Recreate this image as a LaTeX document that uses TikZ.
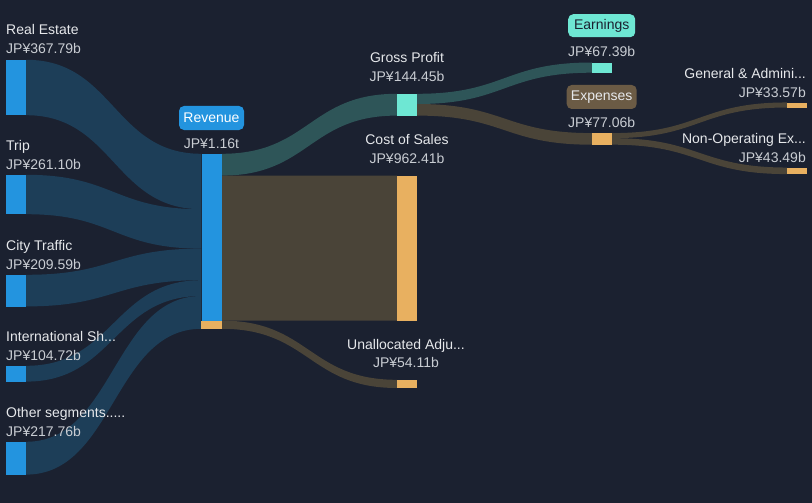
\documentclass[tikz,border=0pt]{standalone}
\usepackage{fontspec}
\setmainfont{Liberation Sans}
\usepackage{tikz}
\usetikzlibrary{
	backgrounds,									% flows behind the bars
	calc,											% coordinate arithmetic
	positioning,									% relative placement
}

\definecolor{canvas}{HTML}{1B2130}
\definecolor{segblue}{HTML}{2394DF}
\definecolor{flowblue}{HTML}{1D3E58}
\definecolor{flowteal}{HTML}{2E5558}
\definecolor{flowbrown}{HTML}{4A4438}
\definecolor{costorange}{HTML}{E8B060}
\definecolor{profteal}{HTML}{6EE7D3}
\definecolor{expbrown}{HTML}{6B5B45}
\definecolor{labelgray}{HTML}{E6E8EB}
\definecolor{valuegray}{HTML}{C9CDD3}

% #1 style, #2 source, #3/#4 top/bottom offset at source, #5 target, #6/#7 top/bottom offset at target
\newcommand{\sankeyflow}[7]{%
	\path ($(#2.north east)+(0,#3)$) coordinate (fa)
		($(#2.north east)+(0,#4)$) coordinate (fb)
		($(#5.north west)+(0,#6)$) coordinate (ta)
		($(#5.north west)+(0,#7)$) coordinate (tb)
		($(fa)!0.5!(ta)$) coordinate (fm);
	\fill[#1] (fa) .. controls (fm |- fa) and (fm |- ta) .. (ta) -- (tb)
		.. controls (fm |- tb) and (fm |- fb) .. (fb) -- cycle;
}

\tikzset{
	bar/.style={rectangle, inner sep=0pt, minimum width=20pt, fill=#1},
	name text/.style={text=labelgray, font=\fontsize{14}{16}\selectfont, inner sep=0pt},
	value text/.style={text=valuegray, font=\fontsize{14}{16}\selectfont, inner sep=0pt},
	tag/.style={rectangle, rounded corners=5pt, fill=#1, inner sep=0pt, minimum height=24pt,
		font=\fontsize{14}{16}\selectfont},
}

\begin{document}
\begin{tikzpicture}[x=1pt, y=-1pt]
	\useasboundingbox (0,0) rectangle (812,503);

	% bars
	\node[bar=segblue, minimum height=55.4pt] (re) at (16,87.7) {};
	\node[bar=segblue, minimum height=39.4pt] (trip) at (16,194.7) {};
	\node[bar=segblue, minimum height=31.6pt] (city) at (16,290.8) {};
	\node[bar=segblue, minimum height=15.8pt] (intl) at (16,373.9) {};
	\node[bar=segblue, minimum height=32.8pt] (other) at (16,458.4) {};
	\node[bar=segblue, minimum height=175pt] (rev) at (211.5,241.5) {};
	\fill[costorange] ($(rev.south west)+(0,-8.2)$) rectangle (rev.south east);
	\node[bar=profteal, minimum height=21.8pt] (gross) at (407,104.9) {};
	\node[bar=costorange, minimum height=145pt] (cost) at (407,248.3) {};
	\node[bar=costorange, minimum height=8.2pt] (unalloc) at (407,384.1) {};
	\node[bar=profteal, minimum height=10.2pt] (earn) at (602,67.8) {};
	\node[bar=costorange, minimum height=11.6pt] (exp) at (602,139.1) {};
	\node[bar=costorange, minimum height=5.06pt] (genadm) at (797,105.2) {};
	\node[bar=costorange, minimum height=6.55pt] (nonop) at (797,171) {};

	% flows
	\begin{scope}[on background layer]
		\fill[canvas] (0,0) rectangle (812,503);
		\sankeyflow{flowblue}{re}{0}{55.4}{rev}{0}{55.4}
		\sankeyflow{flowblue}{trip}{0}{39.4}{rev}{55.4}{94.8}
		\sankeyflow{flowblue}{city}{0}{31.6}{rev}{94.8}{126.4}
		\sankeyflow{flowblue}{intl}{0}{15.8}{rev}{126.4}{142.2}
		\sankeyflow{flowblue}{other}{0}{32.8}{rev}{142.2}{175}
		\sankeyflow{flowteal}{rev}{0}{21.8}{gross}{0}{21.8}
		\sankeyflow{flowbrown}{rev}{21.8}{166.8}{cost}{0}{145}
		\sankeyflow{flowbrown}{rev}{166.8}{175}{unalloc}{0}{8.2}
		\sankeyflow{flowteal}{gross}{0}{10.2}{earn}{0}{10.2}
		\sankeyflow{flowbrown}{gross}{10.2}{21.8}{exp}{0}{11.6}
		\sankeyflow{flowbrown}{exp}{0}{5.06}{genadm}{0}{5.06}
		\sankeyflow{flowbrown}{exp}{5.06}{11.6}{nonop}{0}{6.55}
	\end{scope}

	% left labels
	\node[name text, anchor=base west] (reName) at (6,35) {Real Estate};
	\node[value text, anchor=base west] (reValue) at (6,54) {JP¥367.79b};
	\node[name text, anchor=base west] (tripName) at (6,150) {Trip};
	\node[value text, anchor=base west] (tripValue) at (6,169) {JP¥261.10b};
	\node[name text, anchor=base west] (cityName) at (6,250) {City Traffic};
	\node[value text, anchor=base west] (cityValue) at (6,269) {JP¥209.59b};
	\node[name text, anchor=base west] (intlName) at (6,341) {International Sh...};
	\node[value text, anchor=base west] (intlValue) at (6,360) {JP¥104.72b};
	\node[name text, anchor=base west] (otherName) at (6,417.7) {Other segments.....};
	\node[value text, anchor=base west] (otherValue) at (6,436) {JP¥217.76b};

	% middle labels
	\node[tag=segblue, minimum width=65pt, text=white] (revTag) at (211.5,118) {Revenue};
	\node[value text, anchor=base] (revValue) at (211.5,148) {JP¥1.16t};
	\node[name text, anchor=base] (grossName) at (407,63) {Gross Profit};
	\node[value text, anchor=base] (grossValue) at (407,82) {JP¥144.45b};
	\node[name text, anchor=base] (costName) at (407,144) {Cost of Sales};
	\node[value text, anchor=base] (costValue) at (407,163) {JP¥962.41b};
	\node[name text, anchor=base] (unallocName) at (406,349) {Unallocated Adju...};
	\node[value text, anchor=base] (unallocValue) at (406,367.7) {JP¥54.11b};
	\node[tag=profteal, minimum width=67pt, minimum height=23pt, text=canvas] (earnTag) at (601.7,25.7) {Earnings};
	\node[value text, anchor=base] (earnValue) at (601.7,57) {JP¥67.39b};
	\node[tag=expbrown, minimum width=70pt, text=labelgray] (expTag) at (601.7,97) {Expenses};
	\node[value text, anchor=base] (expValue) at (601.7,128) {JP¥77.06b};

	% right labels
	\node[name text, anchor=base east] (genadmName) at (806,78.7) {General \& Admini...};
	\node[value text, anchor=base east] (genadmValue) at (806,97.7) {JP¥33.57b};
	\node[name text, anchor=base east] (nonopName) at (806,143.3) {Non-Operating Ex...};
	\node[value text, anchor=base east] (nonopValue) at (806,162) {JP¥43.49b};
\end{tikzpicture}
\end{document}
